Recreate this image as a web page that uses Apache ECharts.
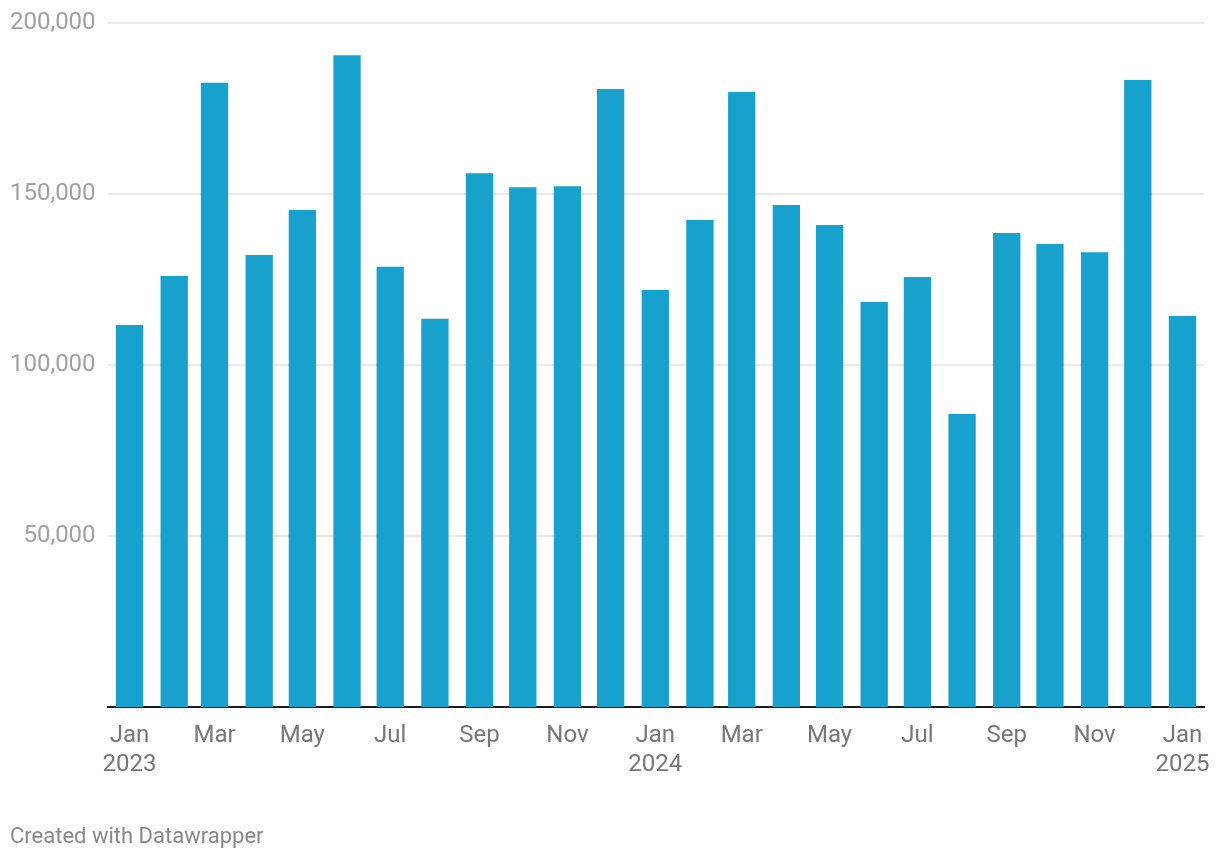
<!DOCTYPE html>
<html>
<head>
<meta charset="utf-8">
<script src="https://cdn.jsdelivr.net/npm/echarts@6/dist/echarts.min.js"></script>
<style>
html,body{margin:0;padding:0;background:#fff;}
#chart{width:1220px;height:860px;}
</style>
</head>
<body>
<div id="chart"></div>
<script>
const months = ["2023-01","2023-02","2023-03","2023-04","2023-05","2023-06","2023-07","2023-08","2023-09","2023-10","2023-11","2023-12",
  "2024-01","2024-02","2024-03","2024-04","2024-05","2024-06","2024-07","2024-08","2024-09","2024-10","2024-11","2024-12","2025-01"];
const values = [111700,126000,182500,132200,145300,190600,128700,113500,156100,152000,152300,180700,
  121900,142400,179800,146800,140900,118400,125700,85700,138600,135400,133000,183300,114300];
const tickMonths = ["2023-01","2023-03","2023-05","2023-07","2023-09","2023-11","2024-01","2024-03","2024-05","2024-07","2024-09","2024-11","2025-01"];
const tickLabels = ["Jan\n2023","Mar","May","Jul","Sep","Nov","Jan\n2024","Mar","May","Jul","Sep","Nov","Jan\n2025"];
const yTicks = [0,50000,100000,150000,200000];
const footer = "Created with Datawrapper";

// day number of the first of a month (days since 1970-01-01, UTC)
function dayOf(m){ const [y,mo]=m.split('-').map(Number); return Date.UTC(y,mo-1,1)/86400000; }
const pad = 15.23;
const xMin = dayOf(months[0]) - pad;
const xMax = dayOf(months[months.length-1]) + pad;
const tickDays = tickMonths.map(dayOf);
const labelMap = {};
tickDays.forEach((d,i)=>{ labelMap[d]=tickLabels[i]; });

const chart = echarts.init(document.getElementById('chart'));
chart.setOption({
  animation:false,
  textStyle:{fontFamily:'Roboto'},
  grid:{left:107.6,right:15.6,top:23,bottom:153,containLabel:false},
  graphic:[{type:'text',left:10,top:826,style:{text:footer,fill:'#888888',font:'22px Roboto'}}],
  xAxis:{
    type:'value',min:xMin,max:xMax,
    axisLine:{onZero:false,lineStyle:{color:'#1a1a1a',width:2}},
    axisTick:{show:false},
    splitLine:{show:false},
    axisLabel:{customValues:tickDays,color:'#777777',fontSize:24,margin:14,lineHeight:29,fontFamily:'Roboto',
      formatter:v=> labelMap[v] !== undefined ? labelMap[v] : ''}
  },
  yAxis:{
    type:'value',min:yTicks[0],max:yTicks[yTicks.length-1],interval:50000,
    axisLine:{show:false},axisTick:{show:false},
    splitLine:{lineStyle:{color:'#e3e3e3',width:1.5}},
    axisLabel:{color:'#a0a0a0',fontSize:24,margin:12,fontFamily:'Roboto',
      formatter:v=> v===0 ? '' : v.toLocaleString('en-US')}
  },
  series:[{type:'bar',data:months.map((m,i)=>[dayOf(m),values[i]]),barWidth:27.3,itemStyle:{color:'#18a1cd'}}]
});
</script>
</body>
</html>
